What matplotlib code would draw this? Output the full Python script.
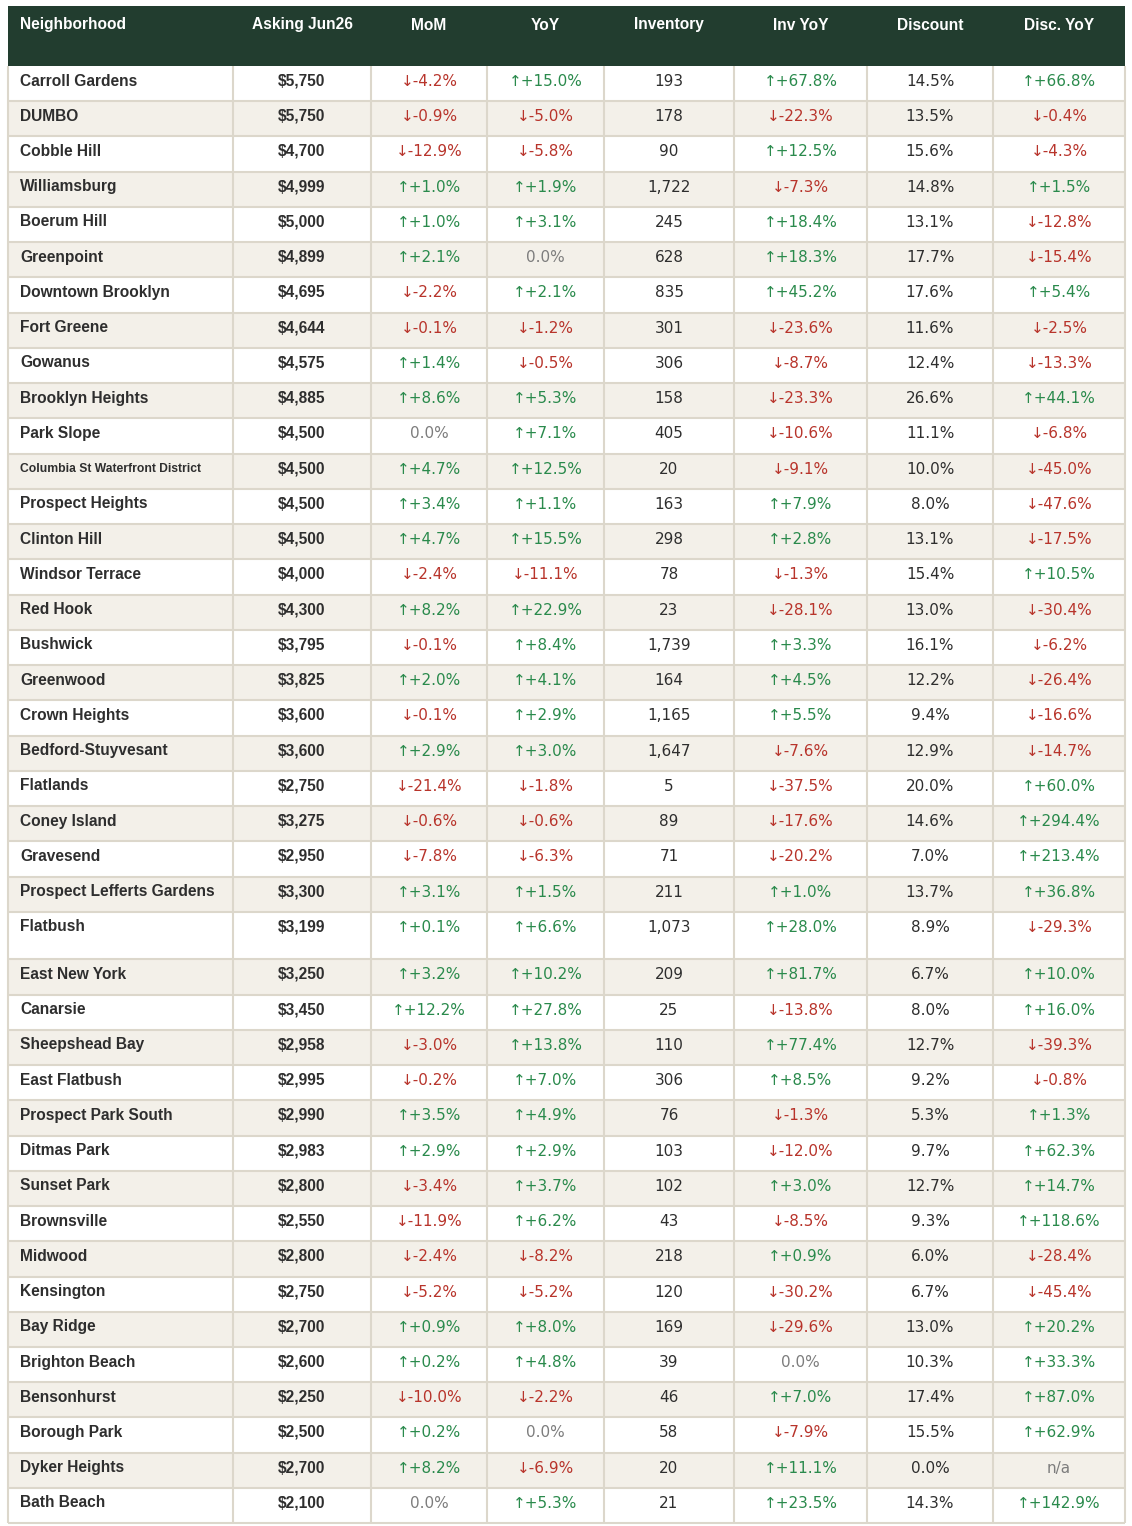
import matplotlib
matplotlib.use("Agg")
import matplotlib.pyplot as plt
from matplotlib.patches import Rectangle

# ---------------- data ----------------
headers = ["Neighborhood", "Asking Jun26", "MoM", "YoY", "Inventory",
           "Inv YoY", "Discount", "Disc. YoY"]

neighborhoods = [
    "Carroll Gardens", "DUMBO", "Cobble Hill", "Williamsburg", "Boerum Hill",
    "Greenpoint", "Downtown Brooklyn", "Fort Greene", "Gowanus", "Brooklyn Heights",
    "Park Slope", "Columbia St Waterfront District", "Prospect Heights", "Clinton Hill",
    "Windsor Terrace", "Red Hook", "Bushwick", "Greenwood", "Crown Heights",
    "Bedford-Stuyvesant", "Flatlands", "Coney Island", "Gravesend",
    "Prospect Lefferts Gardens", "Flatbush", "East New York", "Canarsie",
    "Sheepshead Bay", "East Flatbush", "Prospect Park South", "Ditmas Park",
    "Sunset Park", "Brownsville", "Midwood", "Kensington", "Bay Ridge",
    "Brighton Beach", "Bensonhurst", "Borough Park", "Dyker Heights", "Bath Beach",
]

asking = [5750, 5750, 4700, 4999, 5000, 4899, 4695, 4644, 4575, 4885,
          4500, 4500, 4500, 4500, 4000, 4300, 3795, 3825, 3600, 3600,
          2750, 3275, 2950, 3300, 3199, 3250, 3450, 2958, 2995, 2990,
          2983, 2800, 2550, 2800, 2750, 2700, 2600, 2250, 2500, 2700, 2100]

mom = [-4.2, -0.9, -12.9, 1.0, 1.0, 2.1, -2.2, -0.1, 1.4, 8.6,
       0.0, 4.7, 3.4, 4.7, -2.4, 8.2, -0.1, 2.0, -0.1, 2.9,
       -21.4, -0.6, -7.8, 3.1, 0.1, 3.2, 12.2, -3.0, -0.2, 3.5,
       2.9, -3.4, -11.9, -2.4, -5.2, 0.9, 0.2, -10.0, 0.2, 8.2, 0.0]

yoy = [15.0, -5.0, -5.8, 1.9, 3.1, 0.0, 2.1, -1.2, -0.5, 5.3,
       7.1, 12.5, 1.1, 15.5, -11.1, 22.9, 8.4, 4.1, 2.9, 3.0,
       -1.8, -0.6, -6.3, 1.5, 6.6, 10.2, 27.8, 13.8, 7.0, 4.9,
       2.9, 3.7, 6.2, -8.2, -5.2, 8.0, 4.8, -2.2, 0.0, -6.9, 5.3]

inventory = [193, 178, 90, 1722, 245, 628, 835, 301, 306, 158,
             405, 20, 163, 298, 78, 23, 1739, 164, 1165, 1647,
             5, 89, 71, 211, 1073, 209, 25, 110, 306, 76,
             103, 102, 43, 218, 120, 169, 39, 46, 58, 20, 21]

inv_yoy = [67.8, -22.3, 12.5, -7.3, 18.4, 18.3, 45.2, -23.6, -8.7, -23.3,
           -10.6, -9.1, 7.9, 2.8, -1.3, -28.1, 3.3, 4.5, 5.5, -7.6,
           -37.5, -17.6, -20.2, 1.0, 28.0, 81.7, -13.8, 77.4, 8.5, -1.3,
           -12.0, 3.0, -8.5, 0.9, -30.2, -29.6, 0.0, 7.0, -7.9, 11.1, 23.5]

discount = [14.5, 13.5, 15.6, 14.8, 13.1, 17.7, 17.6, 11.6, 12.4, 26.6,
            11.1, 10.0, 8.0, 13.1, 15.4, 13.0, 16.1, 12.2, 9.4, 12.9,
            20.0, 14.6, 7.0, 13.7, 8.9, 6.7, 8.0, 12.7, 9.2, 5.3,
            9.7, 12.7, 9.3, 6.0, 6.7, 13.0, 10.3, 17.4, 15.5, 0.0, 14.3]

disc_yoy = [66.8, -0.4, -4.3, 1.5, -12.8, -15.4, 5.4, -2.5, -13.3, 44.1,
            -6.8, -45.0, -47.6, -17.5, 10.5, -30.4, -6.2, -26.4, -16.6, -14.7,
            60.0, 294.4, 213.4, 36.8, -29.3, 10.0, 16.0, -39.3, -0.8, 1.3,
            62.3, 14.7, 118.6, -28.4, -45.4, 20.2, 33.3, 87.0, 62.9, None, 142.9]

# ---------------- style ----------------
W, H = 1132, 1526
HEADER_BG = "#223d2f"
STRIPE = "#f3f0e9"
GRID = "#dcd7cb"
TXT = "#2e2e2e"
RED = "#b8342b"
GREEN = "#2a8a4c"
GRAY = "#7d7d7d"

col_edges = [8, 233, 371, 487, 604, 734, 867, 993, 1125]
header_top, header_bot = 6, 66
row_h = 35.24
tall_row = {24: 47.6}

fig = plt.figure(figsize=(W / 100, H / 100), dpi=100)
ax = fig.add_axes([0, 0, 1, 1])
ax.set_xlim(0, W)
ax.set_ylim(H, 0)
ax.axis("off")

# header
ax.add_patch(Rectangle((col_edges[0], header_top), col_edges[-1] - col_edges[0],
                       header_bot - header_top, facecolor=HEADER_BG, edgecolor="none"))
for j, h in enumerate(headers):
    if j == 0:
        ax.text(20, 29.5, h, color="white", fontsize=11.2, fontweight="bold",
                family=["Liberation Sans", "DejaVu Sans"], ha="left", va="baseline")
    else:
        xc = (col_edges[j] + col_edges[j + 1]) / 2
        ax.text(xc, 29.5, h, color="white", fontsize=11.2, fontweight="bold",
                family=["Liberation Sans", "DejaVu Sans"], ha="center", va="baseline")


def change_fmt(v):
    if v is None:
        return "n/a", GRAY
    if v == 0:
        return "0.0%", GRAY
    if v > 0:
        return f"\u2191+{v:.1f}%", GREEN
    return f"\u2193{v:.1f}%", RED


# rows
tops = []
y = header_bot
for i in range(len(neighborhoods)):
    tops.append(y)
    y += tall_row.get(i, row_h)
table_bot = y

for i, name in enumerate(neighborhoods):
    top = tops[i]
    h = tall_row.get(i, row_h)
    bg = "white" if i % 2 == 0 else STRIPE
    ax.add_patch(Rectangle((col_edges[0], top), col_edges[-1] - col_edges[0], h,
                           facecolor=bg, edgecolor="none", zorder=0))
    ty = top + 19.5
    fs_name = 11.2 if len(name) < 28 else 8.7
    ax.text(20, ty - (0 if fs_name > 10 else 1.5), name, color=TXT, fontsize=fs_name,
            fontweight="bold", family=["Liberation Sans", "DejaVu Sans"],
            ha="left", va="baseline")
    cells = []
    cells.append((f"${asking[i]:,}", TXT, True))
    for v in (mom[i], yoy[i]):
        s, c = change_fmt(v)
        cells.append((s, c, False))
    cells.append((f"{inventory[i]:,}", TXT, False))
    s, c = change_fmt(inv_yoy[i])
    cells.append((s, c, False))
    cells.append((f"{discount[i]:.1f}%", TXT, False))
    s, c = change_fmt(disc_yoy[i])
    cells.append((s, c, False))
    for j, (s, c, bold) in enumerate(cells, start=1):
        xc = (col_edges[j] + col_edges[j + 1]) / 2
        if bold:
            ax.text(xc, ty, s, color=TXT, fontsize=11.2, fontweight="bold",
                    family=["Liberation Sans", "DejaVu Sans"], ha="center", va="baseline")
        else:
            ax.text(xc, ty + 0.5, s, color=c, fontsize=11.0,
                    family=["DejaVu Sans"], ha="center", va="baseline")

# grid lines
lw = 1.5
for t in tops[1:] + [table_bot]:
    ax.plot([col_edges[0], col_edges[-1]], [t, t], color=GRID, lw=lw, zorder=2,
            solid_capstyle="butt")
for x in col_edges:
    ax.plot([x, x], [header_bot, table_bot], color=GRID, lw=lw, zorder=2,
            solid_capstyle="butt")

fig.savefig("out.png", dpi=100, facecolor="white")
